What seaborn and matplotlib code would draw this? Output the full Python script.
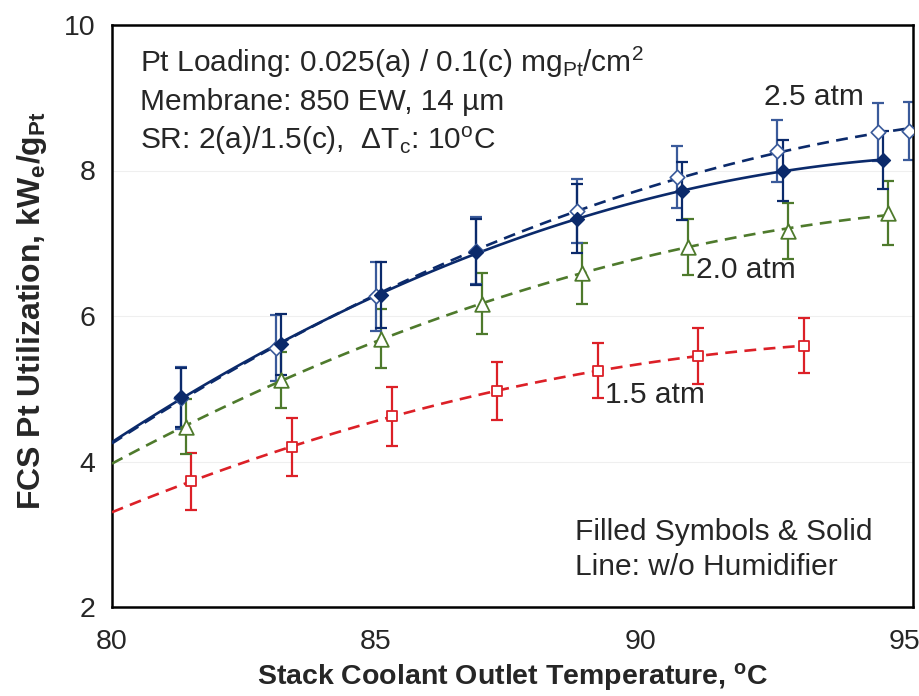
import numpy as np
import pandas as pd
import matplotlib
matplotlib.use("Agg")
import matplotlib.pyplot as plt
import seaborn as sns
from matplotlib.ticker import MultipleLocator

# ---- data ----
temp_nohum_25 = [81.3, 83.2, 85.1, 86.9, 88.8, 90.8, 92.7, 94.6]
util_nohum_25 = [4.88, 5.61, 6.29, 6.88, 7.34, 7.72, 8.00, 8.14]
err_nohum_25 = [0.40, 0.42, 0.45, 0.46, 0.48, 0.40, 0.42, 0.40]

temp_hum_25 = [81.3, 83.1, 85.0, 86.9, 88.8, 90.7, 92.6, 94.5, 95.1]
util_hum_25 = [4.87, 5.56, 6.27, 6.90, 7.44, 7.91, 8.27, 8.53, 8.54]
err_hum_25 = [0.43, 0.45, 0.47, 0.46, 0.44, 0.43, 0.43, 0.40, 0.40]

temp_20 = [81.4, 83.2, 85.1, 87.0, 88.9, 90.9, 92.8, 94.7]
util_20 = [4.48, 5.12, 5.69, 6.17, 6.59, 6.95, 7.17, 7.41]
err_20 = [0.38, 0.38, 0.40, 0.42, 0.42, 0.38, 0.39, 0.44]

temp_15 = [81.5, 83.4, 85.3, 87.3, 89.2, 91.1, 93.1]
util_15 = [3.73, 4.20, 4.62, 4.97, 5.25, 5.45, 5.59]
err_15 = [0.39, 0.40, 0.41, 0.40, 0.38, 0.38, 0.38]

series_labels = ["1.5 atm", "2.0 atm", "2.5 atm"]
x_ticks = [80, 85, 90, 95]
y_ticks = [2, 4, 6, 8, 10]

NAVY = "#0B2A6B"
NAVY_LIGHT = "#3A5A9A"
GREEN = "#4E7A2C"
RED = "#DC2027"

sns.set_theme(style="white")
plt.rcParams["font.family"] = ["Liberation Sans", "DejaVu Sans"]
plt.rcParams["mathtext.fontset"] = "custom"
plt.rcParams["mathtext.rm"] = "Liberation Sans"
plt.rcParams["mathtext.it"] = "Liberation Sans"
plt.rcParams["mathtext.bf"] = "Liberation Sans:bold"

fig = plt.figure(figsize=(9.2, 6.96), dpi=100)
ax = fig.add_axes([112 / 920, 1 - 607 / 696, (913 - 112) / 920, (607 - 25) / 696])

df_a = pd.DataFrame({"T": temp_nohum_25, "U": util_nohum_25, "e": err_nohum_25})
df_b = pd.DataFrame({"T": temp_hum_25, "U": util_hum_25, "e": err_hum_25})
df_g = pd.DataFrame({"T": temp_20, "U": util_20, "e": err_20})
df_r = pd.DataFrame({"T": temp_15, "U": util_15, "e": err_15})

dash = (0, (4.5, 2.8))
LW = 1.9

# error bars
for df, col in [(df_r, RED), (df_g, GREEN), (df_b, NAVY_LIGHT), (df_a, NAVY)]:
    ax.errorbar(df["T"], df["U"], yerr=df["e"], fmt="none", ecolor=col,
                elinewidth=1.6, capsize=4, capthick=1.6, zorder=2)

# fitted curves (quadratic fit via seaborn), from 80 to last point
for df, col, ls in [(df_r, RED, dash), (df_g, GREEN, dash), (df_b, NAVY, dash), (df_a, NAVY, "-")]:
    ax.set_xlim(80, df["T"].max())
    sns.regplot(data=df, x="T", y="U", order=2, ci=None, scatter=False, truncate=False,
                ax=ax, line_kws=dict(color=col, lw=LW, ls=ls, zorder=3))

# markers
sns.scatterplot(data=df_r, x="T", y="U", marker="s", s=55, facecolor="white",
                edgecolor=RED, linewidth=1.3, ax=ax, zorder=4)
sns.scatterplot(data=df_g, x="T", y="U", marker="^", s=110, facecolor="white",
                edgecolor=GREEN, linewidth=1.3, ax=ax, zorder=4)
sns.scatterplot(data=df_b, x="T", y="U", marker="D", s=55, facecolor="white",
                edgecolor=NAVY_LIGHT, linewidth=1.2, ax=ax, zorder=4)
sns.scatterplot(data=df_a, x="T", y="U", marker="D", s=50, color=NAVY,
                edgecolor=NAVY, linewidth=1.0, ax=ax, zorder=5)

ax.set_xlim(80, 95.17)
ax.set_ylim(2, 10)
ax.set_xticks(x_ticks)
ax.set_yticks(y_ticks)
ax.xaxis.set_minor_locator(MultipleLocator(1))
ax.yaxis.set_minor_locator(MultipleLocator(0.4))
ax.tick_params(axis="both", which="both", direction="in", top=False, right=False,
               color="black", width=1.2)
ax.tick_params(axis="both", which="major", length=7, labelsize=20.5)
ax.tick_params(axis="both", which="minor", length=5)
ax.tick_params(axis="x", which="major", pad=16)
ax.tick_params(axis="y", which="major", pad=12)
ax.yaxis.grid(True, color="#EFEFEF", lw=0.8)
ax.set_axisbelow(True)
for s in ax.spines.values():
    s.set_visible(True)
    s.set_color("black")
    s.set_linewidth(1.8)

ax.set_xlabel("Stack Coolant Outlet Temperature, $^{\\mathbf{o}}$C", fontsize=20.5,
              fontweight="bold", labelpad=4)
ax.set_ylabel("FCS Pt Utilization, kW$_{\\mathbf{e}}$/g$_{\\mathbf{Pt}}$", fontsize=23,
              fontweight="bold")
ax.yaxis.set_label_coords(-0.079, 0.51)

fs = 21.5
ax.text(80.53, 9.49, "Pt Loading: 0.025(a) / 0.1(c) mg$_{\\mathrm{Pt}}$/cm$^{2}$", fontsize=fs,
        va="center", ha="left")
ax.text(80.53, 8.94, "Membrane: 850 EW, 14 µm", fontsize=fs, va="center", ha="left")
ax.text(80.53, 8.41, "SR: 2(a)/1.5(c),  ΔT$_{\\mathrm{c}}$: 10$^{\\mathrm{o}}$C", fontsize=fs,
        va="center", ha="left")

ax.text(93.3, 9.01, series_labels[2], fontsize=fs, ha="center", va="center")
ax.text(92.0, 6.63, series_labels[1], fontsize=fs, ha="center", va="center")
ax.text(90.28, 4.91, series_labels[0], fontsize=fs, ha="center", va="center")
ax.text(88.77, 2.79, "Filled Symbols & Solid\nLine: w/o Humidifier", fontsize=fs,
        ha="left", va="center", linespacing=1.3)

fig.savefig("out.png", dpi=100)
